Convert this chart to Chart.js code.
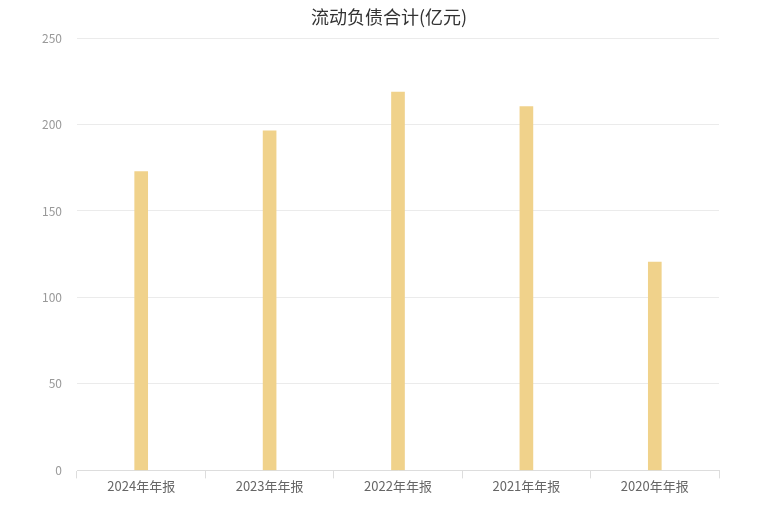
<!DOCTYPE html>
<html lang="zh">
<head>
    <meta charset="UTF-8">
    <title>流动负债合计(亿元)</title>
    <style>
        html, body { margin: 0; padding: 0; background: #fff; }
        #wrap { position: relative; width: 759px; height: 505px; }
        /* 标题偏右，和原图一样居中在 x≈389 */
        #title {
            position: absolute; left: 289px; top: 6px; width: 200px;
            text-align: center; font: 18px/20px "Noto Sans CJK SC", "Noto Sans", sans-serif;
            color: #333;
        }
    </style>
</head>
<body>
    <div id="wrap">
        <div id="title">流动负债合计(亿元)</div>
        <canvas id="myChart" width="759" height="505"></canvas>
    </div>

    <script src="https://cdn.jsdelivr.net/npm/chart.js@4/dist/chart.umd.min.js"></script>
    <script>
        // 数据
        const categories = ['2024年年报', '2023年年报', '2022年年报', '2021年年报', '2020年年报'];
        const liabilities = [172.7, 196.4, 218.8, 210.3, 120.4];
        const yTicks = [0, 50, 100, 150, 200, 250];

        const fontFamily = '"Noto Sans CJK SC", "Noto Sans", sans-serif';

        const ctx = document.getElementById('myChart');
        const myChart = new Chart(ctx, {
            type: 'bar',
            data: {
                labels: categories,
                datasets: [{
                    label: '流动负债合计',
                    data: liabilities,
                    backgroundColor: '#F0D28B',
                    barThickness: 13
                }]
            },
            options: {
                responsive: false,
                animation: false,
                layout: { padding: { left: 0, right: 40, top: 38, bottom: 11 } },
                plugins: {
                    legend: { display: false },
                    tooltip: { enabled: false },
                    title: { display: false }
                },
                scales: {
                    x: {
                        grid: {
                            display: true,
                            drawOnChartArea: false,
                            drawTicks: true,
                            tickLength: 8,
                            color: '#ddd'
                        },
                        border: { display: true, color: '#ddd' },
                        ticks: {
                            color: '#666',
                            font: { family: fontFamily, size: 13 },
                            padding: 0,
                            maxRotation: 0
                        }
                    },
                    y: {
                        min: 0,
                        max: 250,
                        afterBuildTicks: (scale) => {
                            scale.ticks = yTicks.map(v => ({ value: v }));
                        },
                        afterFit: (scale) => { scale.width = 77; },
                        grid: { color: '#ebebeb', drawTicks: false },
                        border: { display: false },
                        ticks: {
                            color: '#999',
                            font: { family: fontFamily, size: 12 },
                            padding: 15
                        }
                    }
                }
            }
        });
    </script>
</body>
</html>
